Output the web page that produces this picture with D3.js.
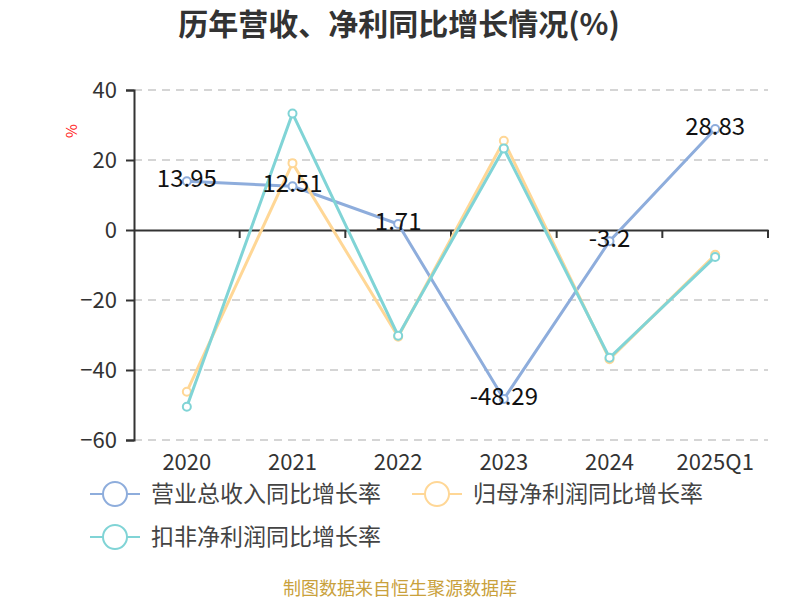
<!DOCTYPE html>
<html>
<head>
<meta charset="utf-8">
<script src="https://cdn.jsdelivr.net/npm/d3@7"></script>
<style>
  body { margin: 0; background: #fff; }
  svg text { font-family: "Noto Sans CJK SC", "Noto Sans", sans-serif; }
</style>
</head>
<body>
<div id="chart"></div>
<script>
const categories = ['2020', '2021', '2022', '2023', '2024', '2025Q1'];
const revenueGrowth = [13.95, 12.51, 1.71, -48.29, -3.2, 28.83];
const netProfitGrowth = [-46.2, 19.1, -30.5, 25.5, -36.9, -7.1];
const deductedProfitGrowth = [-50.5, 33.3, -30.2, 23.3, -36.5, -7.7];
const yTicks = [-60, -40, -20, 0, 20, 40];
const seriesNames = ['营业总收入同比增长率', '归母净利润同比增长率', '扣非净利润同比增长率'];

const width = 800;
const height = 600;
const plotLeft = 134;
const plotRight = 768;
const plotTop = 90;
const plotBottom = 440;
const colors = ['#8eaddc', '#ffd796', '#80d4d6'];

const svg = d3.select('#chart')
              .append('svg')
              .attr('width', width)
              .attr('height', height);

const xScale = d3.scaleBand()
                 .domain(categories)
                 .range([plotLeft, plotRight]);

const yScale = d3.scaleLinear()
                 .domain([-60, 40])
                 .range([plotBottom, plotTop]);

// title
svg.append('text')
   .attr('x', 399)
   .attr('y', 35)
   .attr('text-anchor', 'middle')
   .style('font-size', '30px')
   .style('font-weight', 'bold')
   .style('fill', '#333')
   .text('历年营收、净利同比增长情况(%)');

// gridlines
svg.append('g')
   .selectAll('line')
   .data(yTicks.filter(d => d !== 0))
   .enter()
   .append('line')
   .attr('x1', plotLeft)
   .attr('x2', plotRight)
   .attr('y1', d => yScale(d))
   .attr('y2', d => yScale(d))
   .attr('stroke', '#c8c8c8')
   .attr('stroke-width', 1.5)
   .attr('stroke-dasharray', '8,6');

// y axis
const yAxis = d3.axisLeft(yScale).tickValues(yTicks).tickSize(8).tickPadding(9);
const yg = svg.append('g')
   .attr('transform', 'translate(' + plotLeft + ',0)')
   .call(yAxis);
yg.select('.domain').attr('stroke', '#333').attr('stroke-width', 2);
yg.selectAll('.tick line').attr('stroke', '#333').attr('stroke-width', 2);
yg.selectAll('.tick text')
  .style('font-size', '22px')
  .style('fill', '#333')
  .attr('dy', '0.35em');

// x axis at zero
const xAxis = d3.axisBottom(xScale).tickSize(0).tickFormat(() => '');
const xg = svg.append('g')
   .attr('transform', 'translate(0,' + yScale(0) + ')')
   .call(xAxis);
xg.select('.domain').attr('stroke', '#333').attr('stroke-width', 2);
xg.selectAll('.tick').remove();

// band boundary ticks
svg.append('g')
   .selectAll('line')
   .data(categories.slice(1).concat(['end']))
   .enter()
   .append('line')
   .attr('x1', (d, i) => i < categories.length - 1 ? xScale(d) : plotRight)
   .attr('x2', (d, i) => i < categories.length - 1 ? xScale(d) : plotRight)
   .attr('y1', yScale(0))
   .attr('y2', yScale(0) + 8)
   .attr('stroke', '#333')
   .attr('stroke-width', 2);

// x labels
svg.append('g')
   .selectAll('text')
   .data(categories)
   .enter()
   .append('text')
   .attr('x', d => xScale(d) + xScale.bandwidth() / 2)
   .attr('y', plotBottom + 30)
   .attr('text-anchor', 'middle')
   .style('font-size', '22px')
   .style('fill', '#333')
   .text(d => d);

// % unit label
svg.append('text')
   .attr('transform', 'translate(77,131) rotate(-90)')
   .attr('text-anchor', 'middle')
   .style('font-size', '15px')
   .style('fill', '#ff2020')
   .text('%');

const cx = d => xScale(d) + xScale.bandwidth() / 2;
const allSeries = [revenueGrowth, netProfitGrowth, deductedProfitGrowth];

const line = d3.line()
               .x((d, i) => cx(categories[i]))
               .y(d => yScale(d));

allSeries.forEach((series, s) => {
  svg.append('path')
     .datum(series)
     .attr('d', line)
     .attr('fill', 'none')
     .attr('stroke', colors[s])
     .attr('stroke-width', 3);
  svg.append('g')
     .selectAll('circle')
     .data(series)
     .enter()
     .append('circle')
     .attr('cx', (d, i) => cx(categories[i]))
     .attr('cy', d => yScale(d))
     .attr('r', 4)
     .attr('fill', '#fff')
     .attr('stroke', colors[s])
     .attr('stroke-width', 2);
});

// data labels for revenue
svg.append('g')
   .selectAll('text')
   .data(revenueGrowth)
   .enter()
   .append('text')
   .attr('x', (d, i) => cx(categories[i]))
   .attr('y', d => yScale(d))
   .attr('dy', '0.25em')
   .attr('text-anchor', 'middle')
   .style('font-size', '24px')
   .style('fill', '#111')
   .text(d => d);

// legend
const legendItems = [
  {x: 90, y: 494},
  {x: 412, y: 494},
  {x: 90, y: 537}
];
legendItems.forEach((p, i) => {
  const g = svg.append('g').attr('transform', 'translate(' + p.x + ',' + p.y + ')');
  g.append('line')
   .attr('x1', 0).attr('x2', 50)
   .attr('y1', 0).attr('y2', 0)
   .attr('stroke', colors[i])
   .attr('stroke-width', 2);
  g.append('circle')
   .attr('cx', 25).attr('cy', 0).attr('r', 12)
   .attr('fill', '#fff')
   .attr('stroke', colors[i])
   .attr('stroke-width', 2);
  g.append('text')
   .attr('x', 61)
   .attr('y', 0)
   .attr('dy', '0.35em')
   .style('font-size', '23px')
   .style('fill', '#444')
   .text(seriesNames[i]);
});

// source
svg.append('text')
   .attr('x', 400)
   .attr('y', 595)
   .attr('text-anchor', 'middle')
   .style('font-size', '18px')
   .style('fill', '#c9a13c')
   .text('制图数据来自恒生聚源数据库');
</script>
</body>
</html>
